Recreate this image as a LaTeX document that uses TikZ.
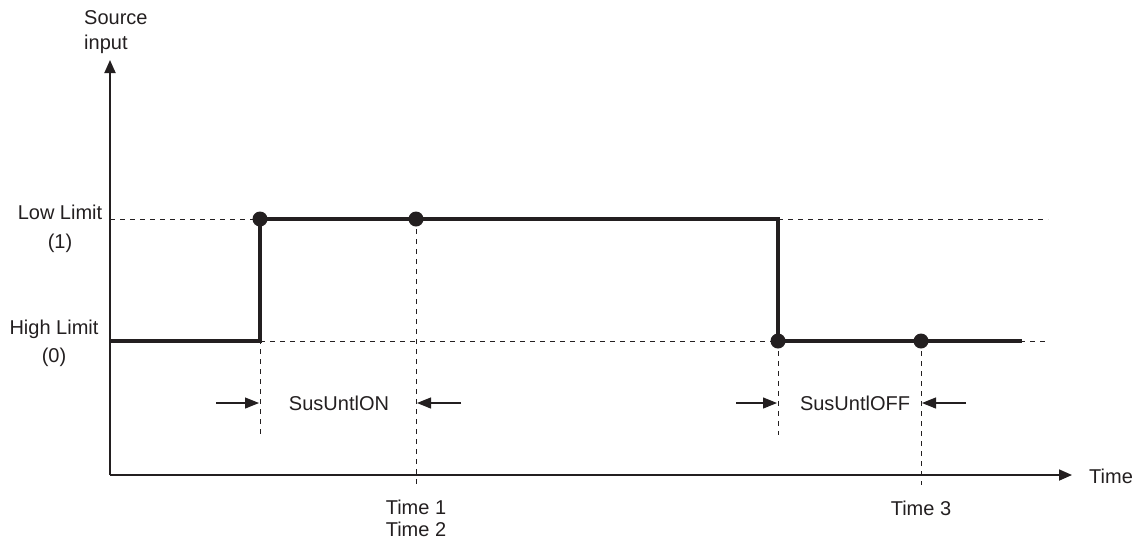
\documentclass[tikz,border=0pt]{standalone}
\usepackage{fontspec}
\setmainfont{Liberation Sans}
\usetikzlibrary{arrows.meta}
\definecolor{ink}{HTML}{231F20}
\begin{document}
\begin{tikzpicture}[x=1pt,y=-1pt,
  lbl/.style={text=ink,font=\fontsize{20}{23}\selectfont,inner sep=0pt},
  axisline/.style={draw=ink,line width=1.8pt,-{Triangle[length=13pt,width=11pt]}},
  sig/.style={draw=ink,line width=3.8pt},
  guide/.style={draw=ink,line width=1pt,dash pattern=on 5pt off 5pt},
  dimarrow/.style={draw=ink,line width=1.2pt,-{Triangle[length=14pt,width=11pt]}},
  dot/.style={circle,fill=ink,minimum size=15pt,inner sep=0pt}]
\useasboundingbox (0,0) rectangle (1137,542);
% coordinates
\coordinate (O) at (110,475);
\coordinate (Ytop) at (110,60);
\coordinate (Xend) at (1072,475);
\coordinate (s0) at (110,341);
\coordinate (s1) at (260,341);
\coordinate (s2) at (260,219);
\coordinate (s3) at (778,219);
\coordinate (s4) at (778,341);
\coordinate (s5) at (1022,341);
\coordinate (lowA) at (110,219);
\coordinate (lowB) at (1048,219);
\coordinate (highB) at (1048,341);
\coordinate (m1) at (416,219);
\coordinate (m3) at (921,341);
\coordinate (v1b) at (260,435);
\coordinate (v2b) at (416,485);
\coordinate (v3b) at (778,435);
\coordinate (v4b) at (921,485);
% guides
\draw[guide] (lowA) -- (s2);
\draw[guide] (s3) -- (lowB);
\draw[guide] (s1) -- (highB);
\draw[guide] (s2) -- (v1b);
\draw[guide] (m1) -- (v2b);
\draw[guide] (s4) -- (v3b);
\draw[guide] (m3) -- (v4b);
% axes
\draw[axisline] (O) -- (Ytop);
\draw[axisline] (O) -- (Xend);
% signal
\draw[sig,line join=miter] (s0) -- (s1) -- (s2) -- (s3) -- (s4) -- (s5);
\node[dot] (d1) at (s2) {};
\node[dot] (d2) at (m1) {};
\node[dot] (d3) at (s4) {};
\node[dot] (d4) at (m3) {};
% dimension arrows
\coordinate (a1s) at (216,403); \coordinate (a1e) at (259,403);
\coordinate (a2s) at (461,403); \coordinate (a2e) at (417,403);
\coordinate (a3s) at (736,403); \coordinate (a3e) at (777,403);
\coordinate (a4s) at (966,403); \coordinate (a4e) at (922,403);
\draw[dimarrow] (a1s) -- (a1e);
\draw[dimarrow] (a2s) -- (a2e);
\draw[dimarrow] (a3s) -- (a3e);
\draw[dimarrow] (a4s) -- (a4e);
% labels
\node[lbl,anchor=west,align=left] (src) at (84,32) {Source\\[2pt]input};
\node[lbl,anchor=west] (time) at (1089,476) {Time};
\node[lbl,align=center] (low) at (60,229) {Low Limit\\[6pt](1)};
\node[lbl,align=center] (high) at (54,343) {High Limit\\[5pt](0)};
\node[lbl] (on) at (339,403) {SusUntlON};
\node[lbl] (off) at (855,403) {SusUntlOFF};
\node[lbl,align=center] (t12) at (416,518) {Time 1\\[-1pt]Time 2};
\node[lbl] (t3) at (921,508) {Time 3};
\end{tikzpicture}
\end{document}
